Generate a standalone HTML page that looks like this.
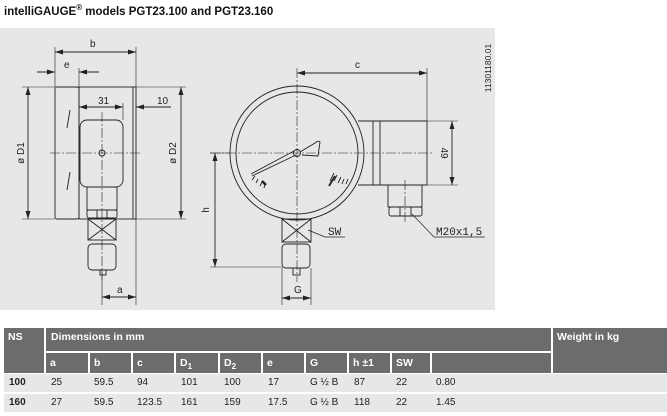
<!DOCTYPE html>
<html><head><meta charset="utf-8"><style>
body{margin:0;width:667px;height:416px;background:#fff;overflow:hidden;font-family:"Liberation Sans",sans-serif;position:relative}
.t{position:absolute;left:4px;top:3px;font-size:11.5px;font-weight:bold;color:#111;white-space:nowrap}
svg{position:absolute;left:0;top:0}
.c{position:absolute;font-size:10px;color:#222;white-space:nowrap}
.h{position:absolute;background:#6b6c6e;color:#fff;font-weight:bold;font-size:10.5px;white-space:nowrap}
.d{position:absolute;background:#e6e7e8}
</style></head><body>
<div class="t">intelliGAUGE<sup style="font-size:8px">®</sup> models PGT23.100 and PGT23.160</div>
<svg width="667" height="416" viewBox="0 0 667 416">
<defs><marker id="a" markerWidth="8" markerHeight="6" refX="8" refY="3" orient="auto-start-reverse" markerUnits="userSpaceOnUse"><path d="M0,0.5 L8,3 L0,5.5z" fill="#222"/></marker></defs>
<rect x="0" y="28" width="495" height="282" fill="#e6e7e8"/>
<g fill="none" stroke="#222" stroke-width="0.9">
<rect x="55" y="87" width="24" height="132" rx="2"/>
<rect x="79" y="87" width="57" height="132"/>
<line x1="133" y1="87" x2="133" y2="219"/>
<rect x="80" y="120" width="43" height="67" rx="7"/>
<rect x="87" y="187" width="30" height="23"/>
<rect x="87" y="210" width="30" height="8" rx="2"/>
<line x1="97" y1="210" x2="97" y2="218"/><line x1="107" y1="210" x2="107" y2="218"/>
<rect x="88" y="219" width="28" height="21"/>
<path d="M88,219 L116,240 M116,219 L88,240"/>
<rect x="88" y="244" width="28" height="26" rx="4"/>
<rect x="100" y="270" width="6" height="5"/>
<circle cx="102" cy="153" r="3"/>
<line x1="70" y1="110" x2="67" y2="128"/><line x1="70" y1="172" x2="67" y2="190"/>
<path d="M55,87 V47 M136,87 V47 M55,87 V68 M79,87 V68 M123,120 V103 M136,219 V305 M102,270 V305" stroke-width="0.6"/>
<path d="M22,87 H55 M22,219 H55 M136,87 H186 M136,219 H186" stroke-width="0.6"/>
<line x1="55" y1="52" x2="136" y2="52" marker-start="url(#a)" marker-end="url(#a)"/>
<line x1="37" y1="72" x2="55" y2="72" marker-end="url(#a)"/><line x1="99" y1="72" x2="79" y2="72" marker-end="url(#a)"/>
<line x1="79" y1="107" x2="123" y2="107" marker-start="url(#a)" marker-end="url(#a)"/>
<line x1="171" y1="107" x2="136" y2="107" marker-end="url(#a)"/>
<line x1="28" y1="87" x2="28" y2="219" marker-start="url(#a)" marker-end="url(#a)"/>
<line x1="181" y1="87" x2="181" y2="219" marker-start="url(#a)" marker-end="url(#a)"/>
<line x1="102" y1="297" x2="136" y2="297" marker-start="url(#a)" marker-end="url(#a)"/>
<g stroke-dasharray="10,2,2,2" stroke-width="0.6"><line x1="50" y1="153" x2="140" y2="153"/><line x1="102" y1="112" x2="102" y2="280"/></g>
<circle cx="297" cy="153" r="67"/><circle cx="297" cy="153" r="61"/>
<path d="M358,121 H427 V185 H358"/>
<line x1="373" y1="121" x2="373" y2="185"/><line x1="380" y1="121" x2="380" y2="185"/>
<rect x="388" y="185" width="34" height="22"/>
<rect x="389" y="207" width="33" height="9" rx="2"/>
<line x1="400" y1="207" x2="400" y2="216"/><line x1="411" y1="207" x2="411" y2="216"/>
<rect x="282" y="219" width="29" height="23"/>
<path d="M282,219 L311,242 M311,219 L282,242"/>
<rect x="282" y="244" width="28" height="24" rx="4"/>
<rect x="293" y="268" width="7" height="7"/>
<circle cx="297" cy="153" r="3.5"/>
<path d="M251,174 L294,151 M252,176 L296,155 M300,152 L315,143 Q318,140 320,142 L319,149 L318,156 L302,155" />
<path d="M252,180l3,-4 M256,183l2,-4 M260,186l2,-4 M264,188l1,-4 M330,181l4,-8 M334,181l3,-6 M338,183l3,-6 M342,184l2,-5 M346,184l2,-5"/>
<path d="M266,185l-4,-4" stroke-width="2.5"/><path d="M329,186l6,-10" stroke-width="1.8"/>
<path d="M427,121 V68 M427,121 H458 M427,185 H458 M210,153 H230 M210,267 H283 M282,268 V305 M311,268 V305" stroke-width="0.6"/>
<line x1="297" y1="73" x2="427" y2="73" marker-start="url(#a)" marker-end="url(#a)"/>
<line x1="452" y1="121" x2="452" y2="185" marker-start="url(#a)" marker-end="url(#a)"/>
<line x1="215" y1="153" x2="215" y2="267" marker-start="url(#a)" marker-end="url(#a)"/>
<line x1="282" y1="298" x2="311" y2="298" marker-start="url(#a)" marker-end="url(#a)"/>
<path d="M308,230 L325,237 H345 M412,214 L434,237 H485" stroke-width="0.7"/>
<g stroke-dasharray="10,2,2,2" stroke-width="0.6"><line x1="210" y1="153" x2="432" y2="153"/><line x1="297" y1="68" x2="297" y2="282"/><line x1="405" y1="180" x2="405" y2="222"/></g>
</g>
<g font-family="Liberation Sans,sans-serif" font-size="10" fill="#222">
<text x="90" y="47">b</text><text x="64" y="68">e</text><text x="98" y="104">31</text><text x="157" y="104">10</text>
<text x="117" y="293">a</text>
<text transform="translate(24,153) rotate(-90)" text-anchor="middle">ø D1</text>
<text transform="translate(176,153) rotate(-90)" text-anchor="middle">ø D2</text>
<text x="355" y="68">c</text><text x="294" y="293">G</text>
<text transform="translate(209,210) rotate(-90)" text-anchor="middle">h</text>
<text transform="translate(441,153) rotate(90)" text-anchor="middle">49</text>
<text x="328" y="235" font-family="Liberation Mono,monospace" font-size="11">SW</text>
<text x="436" y="235" font-family="Liberation Mono,monospace" font-size="11">M20x1,5</text>
<text transform="translate(491,68) rotate(-90)" text-anchor="middle" font-size="8.5">11301180.01</text>
</g>
</svg>
<div class="h" style="left:4px;top:328px;width:40px;height:45px;padding:3px 0 0 4px;box-sizing:border-box">NS</div>
<div class="h" style="left:46px;top:328px;width:505px;height:23px;padding:3px 0 0 5px;box-sizing:border-box">Dimensions in mm</div>
<div class="h" style="left:553px;top:328px;width:114px;height:45px;padding:3px 0 0 4px;box-sizing:border-box">Weight in kg</div>
<div class="h" style="left:46px;top:353px;width:42px;height:20px;padding:4px 0 0 4px;box-sizing:border-box">a</div>
<div class="h" style="left:90px;top:353px;width:41px;height:20px;padding:4px 0 0 4px;box-sizing:border-box">b</div>
<div class="h" style="left:133px;top:353px;width:41px;height:20px;padding:4px 0 0 4px;box-sizing:border-box">c</div>
<div class="h" style="left:176px;top:353px;width:42px;height:20px;padding:4px 0 0 4px;box-sizing:border-box">D<sub style="font-size:8px">1</sub></div>
<div class="h" style="left:220px;top:353px;width:41px;height:20px;padding:4px 0 0 4px;box-sizing:border-box">D<sub style="font-size:8px">2</sub></div>
<div class="h" style="left:263px;top:353px;width:41px;height:20px;padding:4px 0 0 4px;box-sizing:border-box">e</div>
<div class="h" style="left:306px;top:353px;width:41px;height:20px;padding:4px 0 0 4px;box-sizing:border-box">G</div>
<div class="h" style="left:349px;top:353px;width:41px;height:20px;padding:4px 0 0 4px;box-sizing:border-box">h ±1</div>
<div class="h" style="left:392px;top:353px;width:38px;height:20px;padding:4px 0 0 4px;box-sizing:border-box">SW</div>
<div class="h" style="left:432px;top:353px;width:119px;height:20px"></div>
<div class="d" style="left:4px;top:374px;width:663px;height:18px"></div>
<div class="d" style="left:4px;top:394px;width:663px;height:18px"></div>
<span class="c" style="left:9px;top:377px;font-weight:bold">100</span><span class="c" style="left:51px;top:377px">25</span><span class="c" style="left:94px;top:377px">59.5</span><span class="c" style="left:137px;top:377px">94</span><span class="c" style="left:181px;top:377px">101</span><span class="c" style="left:224px;top:377px">100</span><span class="c" style="left:268px;top:377px">17</span><span class="c" style="left:310px;top:377px">G ½ B</span><span class="c" style="left:354px;top:377px">87</span><span class="c" style="left:396px;top:377px">22</span><span class="c" style="left:436px;top:377px">0.80</span>
<span class="c" style="left:9px;top:397px;font-weight:bold">160</span><span class="c" style="left:51px;top:397px">27</span><span class="c" style="left:94px;top:397px">59.5</span><span class="c" style="left:137px;top:397px">123.5</span><span class="c" style="left:181px;top:397px">161</span><span class="c" style="left:224px;top:397px">159</span><span class="c" style="left:268px;top:397px">17.5</span><span class="c" style="left:310px;top:397px">G ½ B</span><span class="c" style="left:354px;top:397px">118</span><span class="c" style="left:396px;top:397px">22</span><span class="c" style="left:436px;top:397px">1.45</span>
</body></html>
